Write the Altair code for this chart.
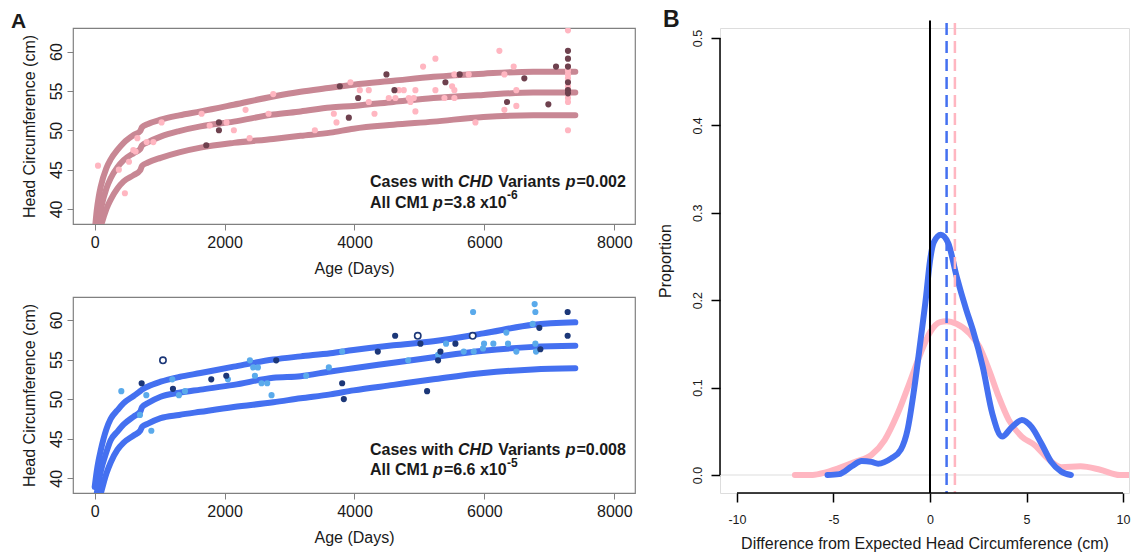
import altair as alt
import pandas as pd

FONT = "Liberation Sans"
INK = "#1a1a1a"

# ---------------- Panel A data ----------------
curve_days = [0, 30, 61, 92, 180, 246, 350, 446, 600, 700, 730, 820, 1015, 1300,
              1630, 2140, 2750, 3170, 3630, 3985, 4600, 5215, 5985, 6750, 7400]
a1_upper = [37.0, 39.7, 41.5, 42.8, 45.2, 46.3, 47.5, 48.4, 49.4, 49.9, 50.4, 50.8, 51.35, 51.9,
            52.4, 53.25, 54.3, 54.9, 55.4, 55.8, 56.3, 56.8, 57.2, 57.45, 57.45]
a1_mid = [34.5, 36.8, 38.6, 39.9, 42.6, 43.9, 45.3, 46.2, 47.1, 47.6, 48.1, 48.5, 49.2, 49.9,
          50.5, 51.1, 52.0, 52.4, 52.9, 53.1, 53.6, 54.1, 54.5, 54.8, 54.8]
a1_low = [32.0, 34.5, 36.3, 37.6, 40.0, 41.2, 42.6, 43.5, 44.3, 44.9, 45.5, 45.9, 46.5, 47.2,
          47.8, 48.4, 48.9, 49.3, 49.7, 50.2, 50.7, 51.1, 51.7, 51.9, 51.9]

a2_upper = [38.9, 40.8, 42.3, 43.5, 46.2, 47.5, 48.6, 49.5, 50.4, 51.0, 51.2, 51.6, 52.2, 52.8,
            53.3, 54.1, 55.0, 55.4, 55.8, 56.2, 56.8, 57.3, 58.3, 59.4, 59.7]
a2_mid = [36.5, 38.0, 39.5, 40.8, 43.3, 44.8, 45.9, 46.8, 47.8, 48.4, 49.0, 49.5, 50.3, 50.8,
          51.2, 51.8, 52.7, 52.9, 53.5, 53.9, 54.6, 55.3, 56.1, 56.6, 56.75]
a2_low = [34.0, 35.5, 37.0, 38.0, 40.6, 42.0, 43.6, 44.5, 45.4, 46.0, 46.5, 46.9, 47.6, 48.0,
          48.4, 49.0, 49.6, 50.1, 50.6, 51.1, 51.8, 52.5, 53.3, 53.75, 53.9]

# top panel observations
a1_pink_days = [51, 372, 465, 528, 595, 630, 657, 800, 903, 1030, 1646, 1770, 2030, 2143, 2323,
                2385, 2677, 2749, 3390, 3682, 3723, 3938, 4082, 4220, 4220, 4308, 4528, 4630,
                4682, 4759, 4836, 4862, 4913, 4938, 4938, 5056, 5246, 5246, 5385, 5503, 5538,
                5538, 5538, 5759, 5862, 6231, 6308, 6308, 6451, 6492, 6492,
                7287, 7287, 7287, 7287, 7287, 7287, 7287, 7287, 7287, 7287, 7287]
a1_pink_hc = [45.5, 45.0, 42.0, 46.0, 47.5, 47.3, 49.0, 48.5, 48.5, 51.0, 52.1, 50.6, 51.0, 50.0,
              52.6, 49.0, 52.1, 54.6, 50.0, 52.1, 51.0, 56.1, 55.1, 55.1, 53.6, 52.1, 54.1, 54.1,
              55.1, 55.1, 54.1, 53.6, 54.1, 55.1, 52.4, 58.1, 59.1, 55.1, 54.1, 55.6, 55.1,
              54.1, 57.1, 57.1, 51.0, 60.1, 57.1, 52.6, 58.1, 55.1, 53.1,
              62.7, 58.1, 57.6, 57.1, 56.6, 55.6, 55.1, 54.6, 54.1, 53.6, 50.0]
a1_dark_days = [1718, 1913, 1913, 3774, 3913, 4056, 4492, 4615, 5400, 5620, 6349, 6615, 6985, 7103,
                7287, 7287, 7287, 7287, 7287, 7287]
a1_dark_hc = [48.1, 51.0, 50.0, 55.6, 51.6, 54.1, 57.1, 55.1, 56.1, 57.1, 53.6, 56.6, 53.3, 58.1,
              60.1, 59.1, 58.1, 56.1, 55.1, 54.7]

# bottom panel observations
a2_light_days = [410, 697, 795, 872, 1195, 1297, 1390, 2051, 2390, 2441, 2513, 2467, 2569, 2656,
                 2723, 3256, 3605, 3810, 4826, 5287, 5410, 5682, 5826, 5836, 5979, 5995, 6138,
                 6338, 6364, 6492, 6743, 6774, 6785, 6785, 6795]
a2_light_hc = [51.0, 48.0, 50.5, 46.0, 52.5, 50.5, 51.0, 52.5, 54.9, 54.0, 54.0, 52.95, 52.0, 52.0,
               50.5, 52.95, 54.0, 56.0, 54.9, 55.6, 57.0, 56.0, 61.0, 56.0, 56.4, 57.0, 57.0,
               58.4, 57.0, 56.0, 59.5, 62.0, 61.0, 57.0, 56.0]
a2_navy_days = [723, 1205, 1795, 2026, 2795, 3810, 3836, 4359, 4626, 5015, 5118, 5287, 5323, 5554,
                6846, 6862, 7282, 7282]
a2_navy_hc = [52.0, 51.3, 52.5, 52.95, 54.9, 52.0, 50.0, 56.0, 58.0, 57.0, 51.0, 54.9, 56.0, 57.0,
              59.0, 56.3, 61.0, 58.0]
a2_open_days = [1051, 4974, 5820]
a2_open_hc = [54.9, 58.0, 58.0]

a_xticks = [0, 2000, 4000, 6000, 8000]
a_yticks = [40, 45, 50, 55, 60]

a1_line1 = [("Cases with", "normal", True), ("CHD", "italic", True), ("Variants", "normal", True),
            ("p", "italic", False), ("=0.002", "normal", False)]
a1_line2 = [("All CM1", "normal", True), ("p", "italic", False), ("=3.8 x10", "normal", False)]
a1_sup = "-6"
a2_line1 = [("Cases with", "normal", True), ("CHD", "italic", True), ("Variants", "normal", True),
            ("p", "italic", False), ("=0.008", "normal", False)]
a2_line2 = [("All CM1", "normal", True), ("p", "italic", False), ("=6.6 x10", "normal", False)]
a2_sup = "-5"

# ---------------- Panel B data ----------------
b_pink_x = [-7.0, -6.08, -5.4, -4.72, -3.87, -3.03, -2.35, -1.68, -1.0, -0.49, 0.02, 0.52, 0.86,
            1.37, 2.05, 2.55, 3.06, 3.57, 4.08, 4.75, 5.43, 6.1, 6.8, 7.8, 8.82, 9.83, 10.5]
b_pink_y = [0.0, 0.0, 0.003, 0.008, 0.015, 0.023, 0.04, 0.07, 0.109, 0.139, 0.164, 0.175, 0.176,
            0.173, 0.162, 0.147, 0.12, 0.089, 0.063, 0.044, 0.034, 0.019, 0.009, 0.010, 0.006,
            0.0, 0.0]
b_blue_x = [-5.31, -4.72, -4.05, -3.54, -3.03, -2.69, -2.01, -1.51, -1.17, -0.83, -0.49, -0.2,
            0.0, 0.19, 0.56, 0.95, 1.37, 1.88, 2.22, 2.73, 3.23, 3.74, 4.25, 4.76, 5.26, 5.77,
            6.28, 6.79, 7.3]
b_blue_y = [0.0, 0.001, 0.01, 0.016, 0.015, 0.013, 0.019, 0.029, 0.051, 0.097, 0.154, 0.205,
            0.245, 0.266, 0.275, 0.265, 0.228, 0.189, 0.166, 0.124, 0.07, 0.044, 0.055, 0.063,
            0.055, 0.036, 0.015, 0.004, 0.0]
b_means = [0.86, 1.29]          # blue, pink
b_xticks = [-10, -5, 0, 5, 10]
b_yticks = [0.0, 0.1, 0.2, 0.3, 0.4, 0.5]

ROSE = "#C88794"
MAROON = "#6E414E"
PINK = "#FFB6C1"
BLUE = "#4470F0"
NAVY = "#1C3778"
LIGHTBLUE = "#5AAAEB"

# ---------------- layout constants ----------------
A_W, A_H = 562, 196
B_W, B_H = 409, 465
GAP_AB = 87

# Arial / Liberation Sans Bold advance widths (per 1000 em)
ADV = {" ": 278, "A": 722, "C": 722, "D": 722, "H": 722, "M": 833, "V": 667, "a": 556,
       "e": 556, "h": 611, "i": 278, "l": 278, "n": 611, "p": 611, "r": 389, "s": 556,
       "t": 333, "w": 778, "x": 556, ".": 278, "=": 584, "-": 333}
for d in "0123456789":
    ADV[d] = 556


def tw(s, size):
    return sum(ADV.get(c, 556) for c in s) * size / 1000.0


def text_layer(s, x, y, size, style="normal", weight="bold"):
    return alt.Chart(pd.DataFrame({"t": [s]})).mark_text(
        align="left", baseline="alphabetic", font=FONT, fontSize=size,
        fontWeight=weight, fontStyle=style, color=INK
    ).encode(x=alt.value(x), y=alt.value(y), text="t:N")


def annotation(line1, line2, sup, x0, y1, y2):
    layers = []
    for line, yy in ((line1, y1), (line2, y2)):
        x = x0
        for s, style, space in line:
            layers.append(text_layer(s, x, yy, 16, style))
            x += tw(s, 16) + (tw(" ", 16) if space else 0) + (1 if style == "italic" else 0)
    layers.append(text_layer(sup, x + 0.5, y2 - 8.5, 12))
    return layers


def growth_panel(curves, point_sets, anno, curve_color, ydom, letter=None):
    ax_x = alt.Axis(values=a_xticks, format="d", title="Age (Days)", grid=False, domain=False,
                    tickSize=6, tickColor="#808080", tickWidth=1, labelFont=FONT,
                    labelFontSize=16, labelColor=INK, labelPadding=4, labelFlush=False,
                    titleFont=FONT, titleFontSize=16, titleFontWeight="normal",
                    titleColor=INK, titlePadding=10)
    ax_y = alt.Axis(values=a_yticks, title="Head Circumference (cm)", grid=False, domain=False,
                    tickSize=6, tickColor="#808080", tickWidth=1, labelFont=FONT,
                    labelFontSize=16, labelColor=INK, labelAngle=-90, labelAlign="center",
                    labelBaseline="alphabetic", labelPadding=6, titleFont=FONT,
                    titleFontSize=16, titleFontWeight="normal", titleColor=INK,
                    titlePadding=11)
    x = alt.X("day:Q", scale=alt.Scale(domain=[-334, 8319], nice=False, zero=False), axis=ax_x)
    y = alt.Y("hc:Q", scale=alt.Scale(domain=ydom, nice=False, zero=False), axis=ax_y)
    rows = []
    for name, vals in curves:
        for d, v in zip(curve_days, vals):
            rows.append({"curve": name, "day": d, "hc": v})
    layers = [alt.Chart(pd.DataFrame(rows)).mark_line(
        color=curve_color, strokeWidth=6, interpolate="monotone", clip=True, strokeCap="round"
    ).encode(x=x, y=y, detail="curve:N")]
    for days, hcs, color, kind in point_sets:
        df = pd.DataFrame({"day": days, "hc": hcs})
        if kind == "open":
            m = alt.Chart(df).mark_point(shape="circle", filled=True, fill="white", stroke=color,
                                         strokeWidth=1.6, size=40, opacity=1, clip=True)
        else:
            m = alt.Chart(df).mark_circle(color=color, size=38, opacity=1, clip=True)
        layers.append(m.encode(x=x, y=y))
    layers += anno
    if letter:
        layers.append(text_layer(letter, -62, 0, 21))
    return alt.layer(*layers).properties(
        width=A_W, height=A_H, view=alt.ViewBackground(stroke="#808080", strokeWidth=1.2))


top = growth_panel(
    [("upper", a1_upper), ("mid", a1_mid), ("low", a1_low)],
    [(a1_pink_days, a1_pink_hc, PINK, "filled"), (a1_dark_days, a1_dark_hc, MAROON, "filled")],
    annotation(a1_line1, a1_line2, a1_sup, 297, 159, 179.5), ROSE, [38.09, 63.0], letter="A")

bottom = growth_panel(
    [("upper", a2_upper), ("mid", a2_mid), ("low", a2_low)],
    [(a2_light_days, a2_light_hc, LIGHTBLUE, "filled"), (a2_navy_days, a2_navy_hc, NAVY, "filled"),
     (a2_open_days, a2_open_hc, NAVY, "open")],
    annotation(a2_line1, a2_line2, a2_sup, 297, 158, 178), BLUE, [38.14, 62.9])

# ---------------- Panel B ----------------
bx_axis = alt.Axis(values=b_xticks, labelExpr="'' + datum.value",
                   title="Difference from Expected Head Circumference (cm)", grid=False,
                   domain=False, tickSize=9, tickWidth=1.5, tickColor="#000000", labelFont=FONT,
                   labelFontSize=12.5, labelColor=INK, labelPadding=11, labelFlush=False,
                   titleFont=FONT, titleFontSize=16, titleFontWeight="normal", titleColor=INK,
                   titlePadding=10)
by_axis = alt.Axis(values=b_yticks, format=".1f", title="Proportion", grid=False, domain=False,
                   tickSize=9, tickWidth=1.5, tickColor="#000000", labelFont=FONT,
                   labelFontSize=12.5, labelColor=INK, labelAngle=-90, labelAlign="center",
                   labelBaseline="alphabetic", labelPadding=10, labelFlush=False,
                   titleFont=FONT, titleFontSize=16, titleFontWeight="normal", titleColor=INK,
                   titlePadding=18)
bx = alt.X("x:Q", scale=alt.Scale(domain=[-10.88, 10.31], nice=False, zero=False), axis=bx_axis)
by = alt.Y("y:Q", scale=alt.Scale(domain=[-0.0206, 0.5114], nice=False, zero=False), axis=by_axis)

b_base = alt.Chart(pd.DataFrame({"y": [0.0]})).mark_rule(
    color="#e8e8e8", strokeWidth=1.5).encode(y=by)
b_pink = alt.Chart(pd.DataFrame({"x": b_pink_x, "y": b_pink_y})).mark_line(
    color=PINK, strokeWidth=6, interpolate="monotone", clip=True, strokeCap="round"
).encode(x=bx, y=by)
b_blue = alt.Chart(pd.DataFrame({"x": b_blue_x, "y": b_blue_y})).mark_line(
    color=BLUE, strokeWidth=6, interpolate="monotone", clip=True, strokeCap="round"
).encode(x=bx, y=by)
b_zero = alt.Chart(pd.DataFrame({"x": [0.0], "y": [0.52]})).mark_rule(
    color="#000000", strokeWidth=2).encode(x=bx, y=by, y2=alt.value(B_H))
b_mean_blue = alt.Chart(pd.DataFrame({"x": [b_means[0]], "y": [0.517]})).mark_rule(
    color=BLUE, strokeWidth=2.5, strokeDash=[12, 6]).encode(x=bx, y=by, y2=alt.value(B_H))
b_mean_pink = alt.Chart(pd.DataFrame({"x": [b_means[1]], "y": [0.517]})).mark_rule(
    color=PINK, strokeWidth=2.5, strokeDash=[12, 6]).encode(x=bx, y=by, y2=alt.value(B_H))
b_xline = alt.Chart(pd.DataFrame({"x": [min(b_xticks)], "x2": [max(b_xticks)]})).mark_rule(
    color="#000000", strokeWidth=1.5).encode(x=bx, x2="x2:Q", y=alt.value(B_H))
b_yline = alt.Chart(pd.DataFrame({"y": [min(b_yticks)], "y2": [max(b_yticks)]})).mark_rule(
    color="#000000", strokeWidth=1.5).encode(y=by, y2="y2:Q", x=alt.value(0))
b_letter = text_layer("B", -57, -1, 23)

right = alt.layer(b_base, b_pink, b_blue, b_zero, b_mean_blue, b_mean_pink, b_xline, b_yline,
                  b_letter).properties(width=B_W, height=B_H)

left = alt.vconcat(top, bottom, spacing=73, bounds="flush")
# nested group contributes no width under flush bounds, so the gap includes panel A's width
chart = alt.hconcat(left, right, spacing=A_W + GAP_AB - 2, bounds="flush").properties(
    padding={"left": 2, "top": 0, "right": 0, "bottom": 0}
).configure_view(strokeWidth=0).configure(font=FONT)

chart.save("out.html", embed_options={"renderer": "svg", "actions": False})
